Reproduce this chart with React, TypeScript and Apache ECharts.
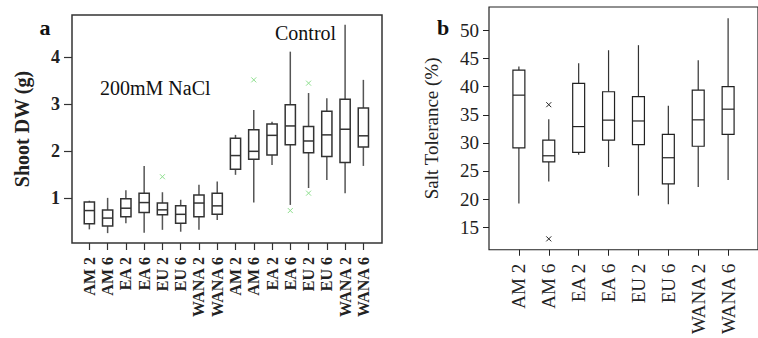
import React, { useEffect, useRef } from "react";
import * as echarts from "echarts";

// Panel a: shoot dry weight (g)
const aCats = ["AM 2", "AM 6", "EA 2", "EA 6", "EU 2", "EU 6", "WANA 2", "WANA 6", "AM 2", "AM 6", "EA 2", "EA 6", "EU 2", "EU 6", "WANA 2", "WANA 6"];
const aLow = [0.33, 0.25, 0.46, 0.26, 0.32, 0.28, 0.32, 0.53, 1.49, 0.9, 1.7, 0.85, 1.21, 1.38, 1.1, 1.68];
const aQ1 = [0.45, 0.4, 0.6, 0.69, 0.64, 0.46, 0.6, 0.65, 1.61, 1.82, 1.91, 2.13, 1.96, 1.88, 1.75, 2.08];
const aMed = [0.73, 0.57, 0.78, 0.9, 0.745, 0.65, 0.89, 0.83, 1.9, 1.99, 2.33, 2.53, 2.21, 2.34, 2.46, 2.32];
const aQ3 = [0.91, 0.74, 0.98, 1.1, 0.89, 0.83, 1.06, 1.1, 2.27, 2.45, 2.57, 2.98, 2.52, 2.84, 3.1, 2.91];
const aHigh = [0.94, 1.0, 1.16, 1.68, 1.12, 0.96, 1.28, 1.35, 2.34, 2.87, 2.62, 4.11, 3.23, 3.12, 4.68, 3.51];
const aOutPos = [5, 10, 12, 13, 13];
const aOutVal = [1.45, 3.51, 0.73, 3.44, 1.1];
const aTicks = [1, 2, 3, 4];

// Panel b: salt tolerance (%)
const bCats = ["AM 2", "AM 6", "EA 2", "EA 6", "EU 2", "EU 6", "WANA 2", "WANA 6"];
const bLow = [19.2, 23.1, 27.9, 25.7, 20.6, 19.05, 22.15, 23.4];
const bQ1 = [29.1, 26.6, 28.3, 30.5, 29.7, 22.7, 29.4, 31.5];
const bMed = [38.5, 27.7, 32.9, 34.05, 33.9, 27.35, 34.1, 36.0];
const bQ3 = [42.95, 30.5, 40.6, 39.1, 38.25, 31.5, 39.4, 40.0];
const bHigh = [43.6, 34.2, 44.2, 46.5, 47.4, 36.6, 44.7, 52.2];
const bOutPos = [2, 2];
const bOutVal = [36.8, 12.9];
const bTicks = [15, 20, 25, 30, 35, 40, 45, 50];

const SERIF = "Liberation Serif";

function boxRenderer(frac: number, stroke: string, whisker: string, lw: number) {
  return (params: any, api: any) => {
    const x = api.value(0);
    const pLo = api.coord([x, api.value(1)]);
    const pQ1 = api.coord([x, api.value(2)]);
    const pMed = api.coord([x, api.value(3)]);
    const pQ3 = api.coord([x, api.value(4)]);
    const pHi = api.coord([x, api.value(5)]);
    const w = api.size([1, 0])[0] * frac;
    const cx = pMed[0];
    return {
      type: "group",
      children: [
        { type: "line", shape: { x1: cx, y1: pLo[1], x2: cx, y2: pQ1[1] }, style: { stroke: whisker, lineWidth: lw } },
        { type: "line", shape: { x1: cx, y1: pQ3[1], x2: cx, y2: pHi[1] }, style: { stroke: whisker, lineWidth: lw } },
        { type: "rect", shape: { x: cx - w / 2, y: pQ3[1], width: w, height: pQ1[1] - pQ3[1] }, style: { fill: "#fff", stroke, lineWidth: lw } },
        { type: "line", shape: { x1: cx - w / 2, y1: pMed[1], x2: cx + w / 2, y2: pMed[1] }, style: { stroke, lineWidth: lw } },
      ],
    };
  };
}

function crossRenderer(size: number, color: string, lw: number) {
  return (params: any, api: any) => {
    const p = api.coord([api.value(0), api.value(1)]);
    const h = size / 2;
    return {
      type: "group",
      children: [
        { type: "line", shape: { x1: p[0] - h, y1: p[1] - h, x2: p[0] + h, y2: p[1] + h }, style: { stroke: color, lineWidth: lw } },
        { type: "line", shape: { x1: p[0] - h, y1: p[1] + h, x2: p[0] + h, y2: p[1] - h }, style: { stroke: color, lineWidth: lw } },
      ],
    };
  };
}

export default function App() {
  const ref = useRef<HTMLDivElement>(null);
  useEffect(() => {
    document.body.style.margin = "0";
    const chart = echarts.init(ref.current!, null, { renderer: "svg" });
    const aData = aCats.map((_, i) => [i + 1, aLow[i], aQ1[i], aMed[i], aQ3[i], aHigh[i]]);
    const bData = bCats.map((_, i) => [i + 1, bLow[i], bQ1[i], bMed[i], bQ3[i], bHigh[i]]);
    const aOut = aOutPos.map((p, i) => [p, aOutVal[i]]);
    const bOut = bOutPos.map((p, i) => [p, bOutVal[i]]);

    chart.setOption({
      animation: false,
      backgroundColor: "#fff",
      textStyle: { fontFamily: SERIF },
      grid: [
        { left: 72, top: 15, width: 310, height: 228, show: true, borderColor: "#333", borderWidth: 1.5, backgroundColor: "transparent" },
        { left: 489, top: 7, width: 280, height: 258, show: true, borderColor: "#222", borderWidth: 1.2, backgroundColor: "transparent" },
      ],
      xAxis: [
        {
          type: "value", gridIndex: 0, min: 0.05, max: 17.02,
          splitLine: { show: false }, axisLine: { show: false },
          axisTick: { show: true, length: 7, lineStyle: { color: "#333", width: 1.2 }, customValues: aCats.map((_, i) => i + 1) },
          axisLabel: {
            customValues: aCats.map((_, i) => i + 1), rotate: 90, margin: 14,
            fontFamily: SERIF, fontWeight: "bold", fontSize: 16, color: "#222",
            formatter: (v: number) => aCats[Math.round(v) - 1] ?? "",
          },
        },
        {
          type: "value", gridIndex: 1, min: 0, max: 9,
          splitLine: { show: false }, axisLine: { show: false },
          axisTick: { show: true, length: 6, lineStyle: { color: "#222", width: 1 }, customValues: bCats.map((_, i) => i + 1) },
          axisLabel: {
            customValues: bCats.map((_, i) => i + 1), rotate: 90, margin: 14,
            fontFamily: SERIF, fontSize: 19, color: "#222",
            formatter: (v: number) => bCats[Math.round(v) - 1] ?? "",
          },
        },
      ],
      yAxis: [
        {
          type: "value", gridIndex: 0, min: 0.04, max: 4.89,
          splitLine: { show: false }, axisLine: { show: false },
          axisTick: { show: true, length: 8, lineStyle: { color: "#333", width: 1.2 }, customValues: aTicks },
          axisLabel: { customValues: aTicks, margin: 12, fontFamily: SERIF, fontWeight: "bold", fontSize: 18, color: "#222" },
          name: "Shoot DW (g)", nameLocation: "middle", nameGap: 40, nameRotate: 90,
          nameTextStyle: { fontFamily: SERIF, fontWeight: "bold", fontSize: 20, color: "#222" },
        },
        {
          type: "value", gridIndex: 1, min: 10.96, max: 54.2,
          splitLine: { show: false }, axisLine: { show: false },
          axisTick: { show: true, length: 6, lineStyle: { color: "#222", width: 1 }, customValues: bTicks },
          axisLabel: { customValues: bTicks, margin: 10, fontFamily: SERIF, fontSize: 19, color: "#222" },
          name: "Salt Tolerance (%)", nameLocation: "middle", nameGap: 48, nameRotate: 90,
          nameTextStyle: { fontFamily: SERIF, fontSize: 19, color: "#222" },
        },
      ],
      series: [
        {
          type: "custom", xAxisIndex: 0, yAxisIndex: 0, data: aData,
          encode: { x: 0, y: [1, 2, 3, 4, 5] },
          renderItem: boxRenderer(0.56, "#333", "#555", 1.5),
        },
        {
          type: "custom", xAxisIndex: 0, yAxisIndex: 0, data: aOut,
          encode: { x: 0, y: 1 },
          renderItem: crossRenderer(5, "#8fdf8f", 1),
        },
        {
          type: "custom", xAxisIndex: 1, yAxisIndex: 1, data: bData,
          encode: { x: 0, y: [1, 2, 3, 4, 5] },
          renderItem: boxRenderer(0.4, "#222", "#333", 1.2),
        },
        {
          type: "custom", xAxisIndex: 1, yAxisIndex: 1, data: bOut,
          encode: { x: 0, y: 1 },
          renderItem: crossRenderer(5, "#222", 1),
        },
      ],
      graphic: [
        { type: "text", x: 45, y: 27, style: { text: "a", font: `bold 22px "${SERIF}"`, fill: "#111", textAlign: "center", textVerticalAlign: "middle" } },
        { type: "text", x: 100, y: 88, style: { text: "200mM NaCl", font: `20px "${SERIF}"`, fill: "#111", textAlign: "left", textVerticalAlign: "middle" } },
        { type: "text", x: 275, y: 33, style: { text: "Control", font: `20px "${SERIF}"`, fill: "#111", textAlign: "left", textVerticalAlign: "middle" } },
        { type: "text", x: 443, y: 27, style: { text: "b", font: `bold 22px "${SERIF}"`, fill: "#111", textAlign: "center", textVerticalAlign: "middle" } },
      ],
    });
    return () => chart.dispose();
  }, []);
  return <div ref={ref} style={{ width: 758, height: 338 }} />;
}
